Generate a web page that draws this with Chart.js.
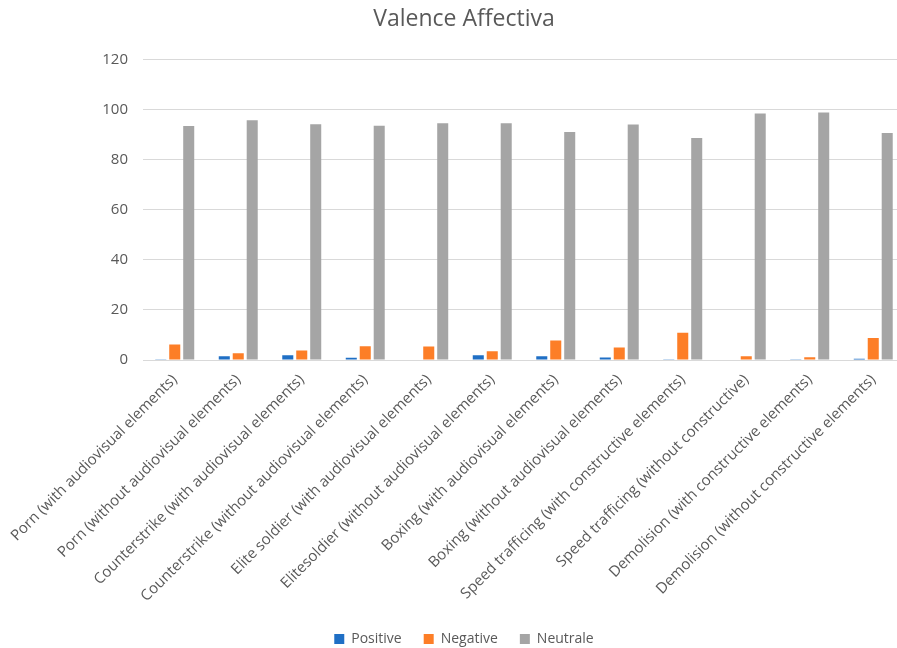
<!DOCTYPE html>
<html>
<head>
<meta charset="utf-8">
<script src="https://cdn.jsdelivr.net/npm/chart.js@4/dist/chart.umd.min.js"></script>
<style>
  html, body { margin: 0; padding: 0; background: #fff; overflow: hidden; }
  #wrap { width: 925px; height: 648px; }
</style>
</head>
<body>
<div id="wrap"><canvas id="valenceChart" width="925" height="648"></canvas></div>
<script>
// Valence Affectiva - grouped bars per stimulus

const categories = [
  'Porn (with audiovisual elements)',
  'Porn (without audiovisual elements)',
  'Counterstrike (with audiovisual elements)',
  'Counterstrike (without audiovisual elements)',
  'Elite soldier (with audiovisual elements)',
  'Elitesoldier (without audiovisual elements)',
  'Boxing (with audiovisual elements)',
  'Boxing (without audiovisual elements)',
  'Speed trafficing (with constructive elements)',
  'Speed trafficing (without constructive)',
  'Demolision (with constructive elements)',
  'Demolision (without constructive elements)'
];

const positive = [0.3, 1.5, 1.9, 0.9, 0, 1.9, 1.5, 1.0, 0.3, 0, 0.1, 0.5];
const negative = [6.2, 2.7, 3.8, 5.5, 5.4, 3.5, 7.8, 5.0, 10.9, 1.5, 1.1, 8.8];
const neutrale = [93.5, 95.8, 94.2, 93.6, 94.6, 94.6, 91.1, 94.1, 88.7, 98.5, 98.9, 90.7];

const yTicks = [0, 20, 40, 60, 80, 100, 120];

const fontFamily = '"Open Sans", "Liberation Sans", sans-serif';
const textColor = '#595959';
const gridColor = '#d9d9d9';

const ctx = document.getElementById('valenceChart').getContext('2d');
const valenceChart = new Chart(ctx, {
  type: 'bar',
  data: {
    labels: categories,
    datasets: [
      { label: 'Positive', data: positive, backgroundColor: '#1f6fc5' },
      { label: 'Negative', data: negative, backgroundColor: '#fd7e27' },
      { label: 'Neutrale', data: neutrale, backgroundColor: '#a5a5a5' }
    ]
  },
  options: {
    responsive: false,
    animation: false,
    devicePixelRatio: 1,
    categoryPercentage: 0.66,
    barPercentage: 0.79,
    layout: {
      padding: { left: 23, right: 20, top: 6, bottom: -8 }
    },
    plugins: {
      title: {
        display: true,
        text: 'Valence Affectiva',
        color: textColor,
        font: { family: fontFamily, size: 23, weight: 'normal' },
        padding: { top: 0, bottom: 26 }
      },
      legend: {
        position: 'bottom',
        labels: {
          color: textColor,
          font: { family: fontFamily, size: 14 },
          boxWidth: 10,
          boxHeight: 10,
          padding: 22
        }
      },
      tooltip: { enabled: false }
    },
    scales: {
      x: {
        grid: { display: false },
        border: { display: true, color: gridColor, width: 1 },
        ticks: {
          color: textColor,
          font: { family: fontFamily, size: 15 },
          maxRotation: 45,
          minRotation: 45,
          autoSkip: false
        },
        afterFit: (scale) => { scale.height = 250; }
      },
      y: {
        min: 0,
        max: 120,
        afterBuildTicks: (scale) => {
          scale.ticks = yTicks.map(v => ({ value: v }));
        },
        grid: { color: gridColor, drawTicks: false },
        border: { display: false },
        ticks: {
          color: textColor,
          font: { family: fontFamily, size: 15 },
          padding: 15
        },
        afterFit: (scale) => { scale.width = 120; }
      }
    }
  }
});
</script>
</body>
</html>
